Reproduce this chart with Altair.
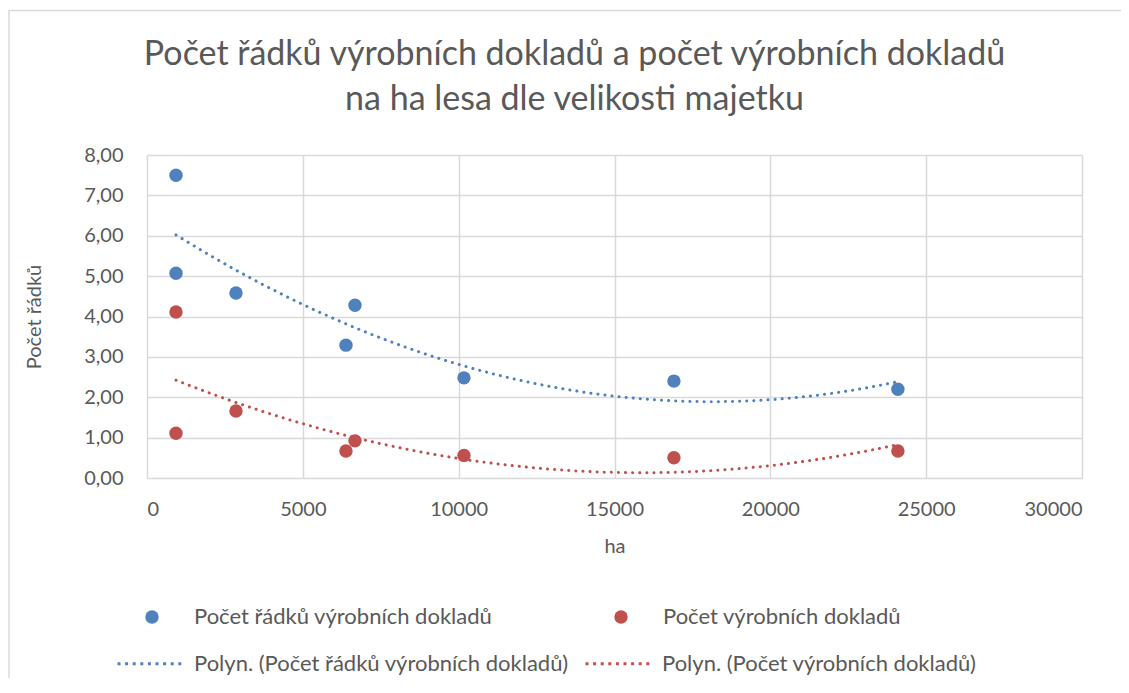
import altair as alt
import pandas as pd

# ---- data ----
ha = [930, 930, 2855, 6384, 6673, 10170, 16907, 24093]
pocet_radku = [7.50, 5.07, 4.58, 3.29, 4.28, 2.48, 2.40, 2.20]
pocet_dokladu = [4.11, 1.11, 1.66, 0.67, 0.92, 0.56, 0.50, 0.67]

series_names = ["Počet řádků výrobních dokladů", "Počet výrobních dokladů"]
trend_names = ["Polyn. (Počet řádků výrobních dokladů)", "Polyn. (Počet výrobních dokladů)"]
colors = ["#4F81BD", "#C0504D"]

x_ticks = [0, 5000, 10000, 15000, 20000, 25000, 30000]
y_ticks = [0, 1, 2, 3, 4, 5, 6, 7, 8]
title_lines = ["Počet řádků výrobních dokladů a počet výrobních dokladů",
               "na ha lesa dle velikosti majetku"]
x_title = "ha"
y_title = "Počet řádků"

records = []
for h, a, b in zip(ha, pocet_radku, pocet_dokladu):
    records.append({"ha": h, "value": a, "series": series_names[0], "trend": trend_names[0]})
    records.append({"ha": h, "value": b, "series": series_names[1], "trend": trend_names[1]})
df = pd.DataFrame(records)

FONT = "Lato"
TXT = "#595959"
GRID = "#d9d9d9"

x_enc = alt.X("ha:Q",
              scale=alt.Scale(domain=[0, 30000], nice=False),
              axis=alt.Axis(values=x_ticks, title=x_title, labelPadding=21,
                            titlePadding=17, format="d"))
y_enc = alt.Y("value:Q",
              scale=alt.Scale(domain=[0, 8], nice=False),
              axis=alt.Axis(values=y_ticks, title=y_title, labelPadding=24,
                            titlePadding=39,
                            labelExpr="replace(format(datum.value, '.2f'), '.', ',')"))

base = alt.Chart(df)

# thin chart-area frame (decoration, only its left and top edges fall in view)
border = alt.Chart(alt.Data(values=[{}])).mark_rect(
    fill="transparent", stroke=GRID, strokeWidth=1.5
).encode(x=alt.value(-138), y=alt.value(-144.5), x2=alt.value(1400), y2=alt.value(900))

lines = base.transform_regression(
    "ha", "value", groupby=["trend"], method="poly", order=2
).mark_line(strokeWidth=3, strokeDash=[0.1, 7], strokeCap="round").encode(
    x=x_enc, y=y_enc,
    stroke=alt.Stroke("trend:N",
                      scale=alt.Scale(domain=trend_names, range=colors),
                      legend=alt.Legend(orient="none", legendX=-31, legendY=473,
                                        direction="horizontal", columns=2, title=None,
                                        symbolType="stroke", symbolSize=4624,
                                        symbolStrokeWidth=3, symbolDash=[3, 4.6],
                                        labelFont=FONT, labelFontSize=22, labelColor=TXT,
                                        labelOffset=7, columnPadding=10, padding=0,
                                        labelLimit=600))
)

points = base.mark_circle(size=180, opacity=1).encode(
    x=x_enc, y=y_enc,
    fill=alt.Fill("series:N",
                  scale=alt.Scale(domain=series_names, range=colors),
                  legend=alt.Legend(orient="none", legendX=-6, legendY=451,
                                    direction="horizontal", columns=2, title=None,
                                    symbolType="circle", symbolSize=180,
                                    symbolStrokeWidth=0,
                                    labelFont=FONT, labelFontSize=22, labelColor=TXT,
                                    labelOffset=31, columnPadding=117, padding=0,
                                    labelLimit=600))
)

chart = alt.layer(border, lines, points).properties(
    width=935, height=323,
    autosize=alt.AutoSizeParams(type="none"),
    padding={"left": 139, "top": 147, "right": 39, "bottom": 200},
    title=alt.TitleParams(text=title_lines, font=FONT, fontSize=34, fontWeight="normal",
                          color=TXT, anchor="middle", frame="group", dx=-40,
                          offset=0, dy=107, lineHeight=45),
).configure(background="white").configure_view(stroke=None).configure_axis(
    labelFont=FONT, labelFontSize=20, labelColor=TXT,
    titleFont=FONT, titleFontSize=20, titleColor=TXT, titleFontWeight="normal",
    grid=True, gridColor=GRID, gridWidth=1.5, ticks=False, tickSize=0, domain=False,
)

chart.save("out.html", embed_options={"renderer": "svg", "actions": False})
